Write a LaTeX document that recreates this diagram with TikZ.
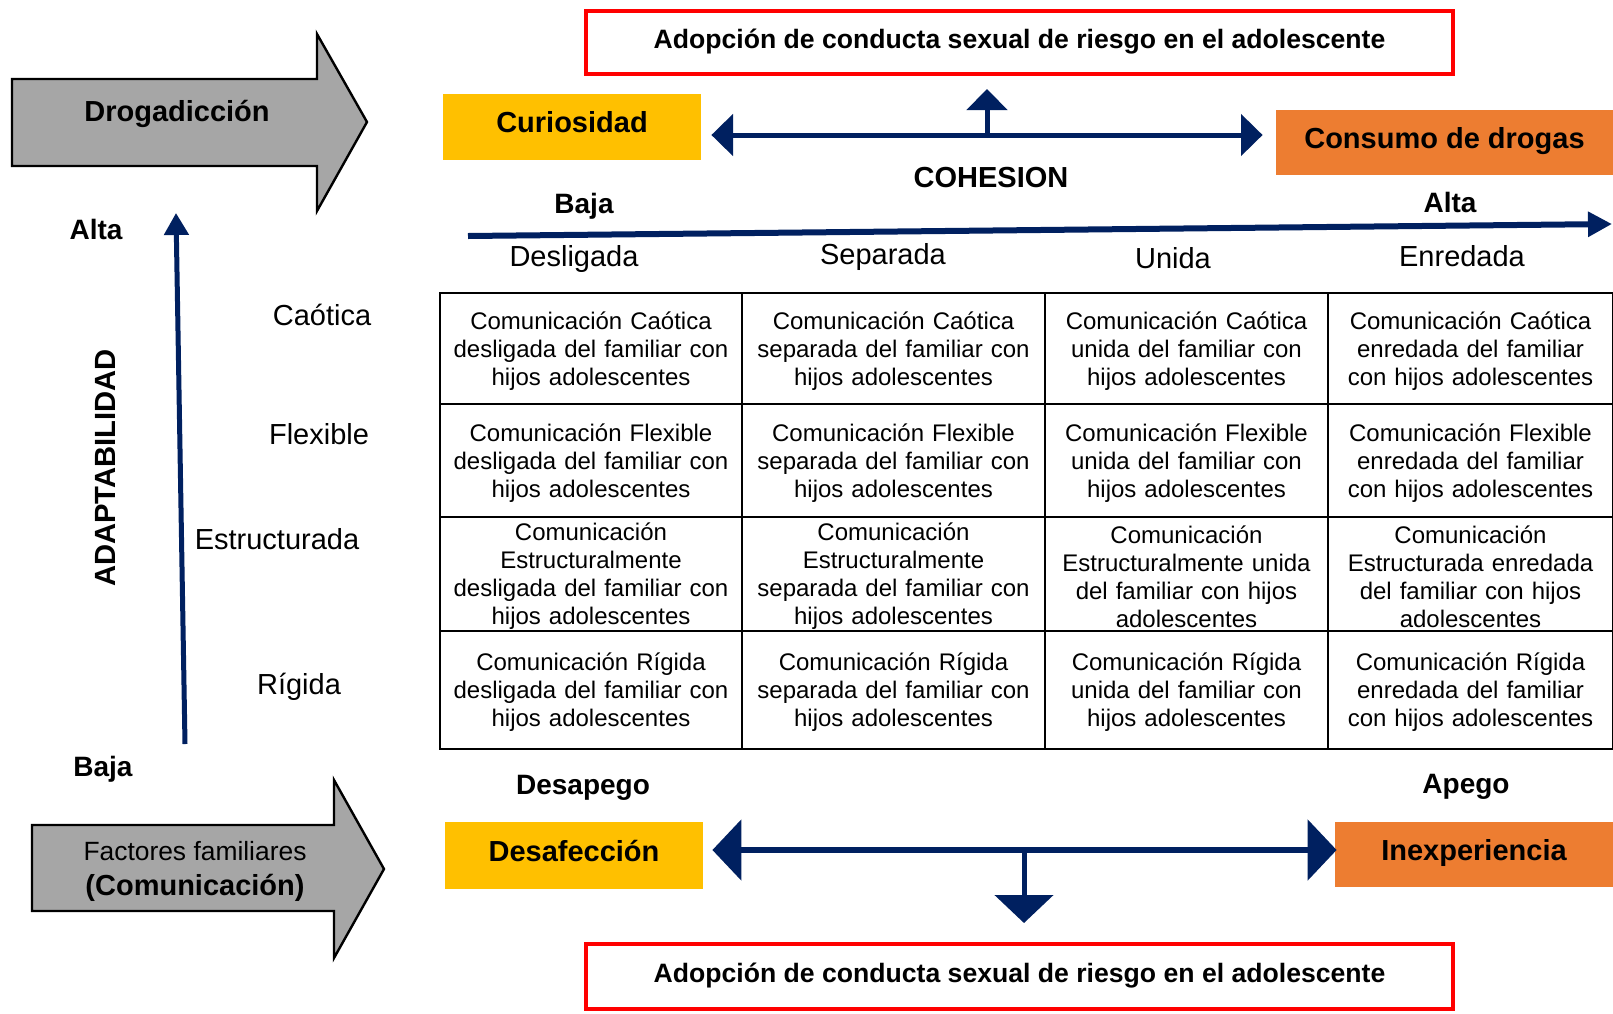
\documentclass[tikz,border=0pt]{standalone}
\usepackage{fontspec}
\setmainfont{Liberation Sans}
\usetikzlibrary{arrows.meta,calc}
\definecolor{navy}{HTML}{002060}
\definecolor{gold}{HTML}{FFC000}
\definecolor{orng}{HTML}{ED7D31}
\definecolor{grayf}{HTML}{A6A6A6}
\definecolor{redb}{HTML}{FF0000}
\newcommand{\cstrut}{\rule{0pt}{11.3pt}}
\begin{document}
\begin{tikzpicture}[x=0.5pt,y=-0.5pt,
  lbl/.style={inner sep=0pt, text height=0.92em, text depth=0pt},
  bl/.style={lbl, font=\fontsize{14}{16}\selectfont\bfseries},
  rg/.style={lbl, font=\fontsize{14.5}{17}\selectfont},
  colorbox/.style={inner sep=0pt, text height=0.55em, text depth=0pt, font=\fontsize{14.5}{17}\selectfont\bfseries},
  redbox/.style={draw=redb, line width=2pt, fill=white, minimum width=433.5pt, inner sep=0pt, text height=0.58em, text depth=0pt, font=\fontsize{13.3}{16}\selectfont\bfseries},
  cell/.style={draw, line width=1pt, inner sep=0pt, align=center, font=\fontsize{12}{14}\selectfont},
  colA/.style={minimum width=151pt, text width=147pt},
  colB/.style={minimum width=151.5pt, text width=147pt},
  colC/.style={minimum width=141.5pt, text width=138pt},
  colD/.style={minimum width=142.5pt, text width=139pt},
  rowA/.style={minimum height=55.5pt},
  rowB/.style={minimum height=56.5pt},
  rowC/.style={minimum height=57pt},
  rowD/.style={minimum height=59pt},
  blockarrow/.style={draw=black, line width=1.2pt, fill=grayf},
  dbltop/.style={navy, line width=2.5pt, {Triangle[length=10.8pt,width=20.5pt]}-{Triangle[length=10.8pt,width=20.5pt]}},
  dblbot/.style={navy, line width=3pt, {Triangle[length=14.5pt,width=30pt]}-{Triangle[length=14.5pt,width=30pt]}},
  stemtop/.style={navy, line width=2.5pt, -{Triangle[length=10.5pt,width=20pt]}},
  stembot/.style={navy, line width=2.5pt, -{Triangle[length=14pt,width=29pt]}},
  axisarrow/.style={navy, line width=3pt, -{Triangle[length=12pt,width=12pt]}},
  vaxis/.style={navy, line width=2.5pt, -{Triangle[length=11pt,width=12pt]}}
]
\useasboundingbox (0,0) rectangle (1613,1013);
\fill[white] (0,0) rectangle (1613,1013);

% block arrows
\draw[blockarrow] (12,79) -- (317,79) -- (317,34) -- (367,122) -- (317,211) -- (317,166) -- (12,166) -- cycle;
\node[lbl, font=\fontsize{14.5}{17}\selectfont\bfseries] (drog) at (177,112) {Drogadicción};
\draw[blockarrow] (32,825) -- (334,825) -- (334,780) -- (384,869) -- (334,958) -- (334,911) -- (32,911) -- cycle;
\node[lbl, font=\fontsize{13.2}{16}\selectfont] (fact1) at (195,851) {Factores familiares};
\node[lbl, font=\fontsize{14.5}{17}\selectfont\bfseries] (fact2) at (195,886) {(Comunicación)};

% red boxes
\node[redbox, minimum height=31.5pt] (redtop) at (1019.5,42.5) {Adopción de conducta sexual de riesgo en el adolescente};
\node[redbox, minimum height=32.5pt] (redbot) at (1019.5,976.5) {Adopción de conducta sexual de riesgo en el adolescente};

% colour boxes
\node[colorbox, fill=gold, minimum width=129pt, minimum height=33pt] (cur) at (572,127) {Curiosidad};
\node[colorbox, fill=orng, minimum width=168.5pt, minimum height=32.5pt] (cons) at (1444.5,142.5) {Consumo de drogas};
\node[colorbox, fill=gold, minimum width=129pt, minimum height=33.5pt] (desaf) at (574,855.5) {Desafección};
\node[colorbox, fill=orng, minimum width=139pt, minimum height=32.5pt] (inexp) at (1474,854.5) {Inexperiencia};

% top connectors
\coordinate (topaxis) at (0,135);
\coordinate (tmid) at (987,135);
\draw[dbltop] ([xshift=5pt]cur.east |- topaxis) -- ([xshift=-6.5pt]cons.west |- topaxis);
\draw[stemtop] (tmid) -- ([yshift=-6.5pt]redtop.south -| tmid);

% bottom connectors
\coordinate (botaxis) at (0,850);
\coordinate (bmid) at (1024,850);
\draw[dblbot] ([xshift=4.5pt]desaf.east |- botaxis) -- ([xshift=1pt]inexp.west |- botaxis);
\draw[stembot] (bmid) -- ([yshift=9.5pt]redbot.north -| bmid);

% cohesion axis
\node[bl, font=\fontsize{14.5}{17}\selectfont\bfseries] (cohes) at (991,178) {COHESION};
\node[bl] (bajaT) at (584,204) {Baja};
\node[bl] (altaT) at (1450,203) {Alta};
\coordinate (hA) at (468,236);
\coordinate (hB) at (1612,224);
\draw[axisarrow] (hA) -- (hB);
\node[rg] (desl) at (574,257) {Desligada};
\node[rg] (sepa) at (883,255) {Separada};
\node[rg] (unid) at (1173,259) {Unida};
\node[rg] (enre) at (1462,257) {Enredada};

% adaptabilidad axis
\node[bl] (altaL) at (96,230) {Alta};
\node[bl] (bajaL) at (103,767) {Baja};
\coordinate (vA) at (185,744);
\coordinate (vB) at (176,213);
\draw[vaxis] (vA) -- (vB);
\node[bl, rotate=90, font=\fontsize{14.6}{16}\selectfont\bfseries] (adapt) at (106,468) {ADAPTABILIDAD};
\node[rg] (caot) at (322,316) {Caótica};
\node[rg] (flex) at (319,435) {Flexible};
\node[rg] (estr) at (277,540) {Estructurada};
\node[rg] (rigi) at (299,685) {Rígida};

% table
\node[cell, colA, rowA] (c11) at (591,348.5) {\cstrut Comunicación Caótica\\desligada del familiar con\\hijos adolescentes};
\node[cell, colB, rowA] (c12) at (893.5,348.5) {\cstrut Comunicación Caótica\\separada del familiar con\\hijos adolescentes};
\node[cell, colC, rowA] (c13) at (1186.5,348.5) {\cstrut Comunicación Caótica\\unida del familiar con\\hijos adolescentes};
\node[cell, colD, rowA] (c14) at (1470.5,348.5) {\cstrut Comunicación Caótica\\enredada del familiar\\con hijos adolescentes};

\node[cell, colA, rowB] (c21) at (591,460.5) {\cstrut Comunicación Flexible\\desligada del familiar con\\hijos adolescentes};
\node[cell, colB, rowB] (c22) at (893.5,460.5) {\cstrut Comunicación Flexible\\separada del familiar con\\hijos adolescentes};
\node[cell, colC, rowB] (c23) at (1186.5,460.5) {\cstrut Comunicación Flexible\\unida del familiar con\\hijos adolescentes};
\node[cell, colD, rowB] (c24) at (1470.5,460.5) {\cstrut Comunicación Flexible\\enredada del familiar\\con hijos adolescentes};

\node[cell, colA, rowC] (c31) at (591,574) {\cstrut Comunicación\\Estructuralmente\\desligada del familiar con\\hijos adolescentes};
\node[cell, colB, rowC] (c32) at (893.5,574) {\cstrut Comunicación\\Estructuralmente\\separada del familiar con\\hijos adolescentes};
\node[cell, colC, rowC] (c33) at (1186.5,574) {\cstrut Comunicación\\Estructuralmente unida\\del familiar con hijos\\adolescentes};
\node[cell, colD, rowC] (c34) at (1470.5,574) {\cstrut Comunicación\\Estructurada enredada\\del familiar con hijos\\adolescentes};

\node[cell, colA, rowD] (c41) at (591,690) {\cstrut Comunicación Rígida\\desligada del familiar con\\hijos adolescentes};
\node[cell, colB, rowD] (c42) at (893.5,690) {\cstrut Comunicación Rígida\\separada del familiar con\\hijos adolescentes};
\node[cell, colC, rowD] (c43) at (1186.5,690) {\cstrut Comunicación Rígida\\unida del familiar con\\hijos adolescentes};
\node[cell, colD, rowD] (c44) at (1470.5,690) {\cstrut Comunicación Rígida\\enredada del familiar\\con hijos adolescentes};

% bottom labels
\node[bl] (desap) at (583,785) {Desapego};
\node[bl] (apego) at (1466,784) {Apego};
\end{tikzpicture}
\end{document}
